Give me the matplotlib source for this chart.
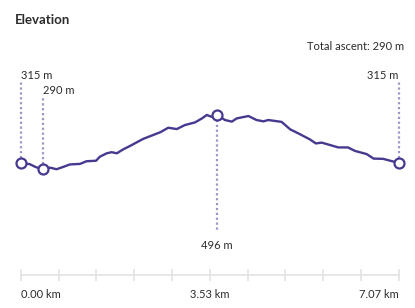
import numpy as np
import matplotlib
matplotlib.use('Agg')
import matplotlib.pyplot as plt
import matplotlib.transforms as mtransforms

# elevation profile
distance_km = [0.00, 0.17, 0.27, 0.41, 0.55, 0.67, 0.80, 0.92, 1.11, 1.23,
               1.41, 1.48, 1.61, 1.70, 1.80, 1.92, 2.04, 2.29, 2.61, 2.76,
               2.92, 3.07, 3.26, 3.39, 3.48, 3.57, 3.67, 3.82, 3.95, 4.04,
               4.26, 4.41, 4.54, 4.63, 4.88, 5.04, 5.22, 5.41, 5.52, 5.63,
               5.94, 6.12, 6.25, 6.47, 6.60, 6.78, 6.91, 7.07]
elevation_m = [315, 310, 300, 290, 297, 291, 300, 309, 311, 321,
               323, 338, 351, 355, 351, 366, 378, 405, 430, 447,
               442, 457, 467, 482, 495, 488, 496, 476, 470, 482,
               491, 476, 471, 476, 469, 441, 423, 403, 388, 391,
               373, 373, 360, 348, 331, 330, 323, 315]

total_ascent = 290
tick_labels = ['0.00 km', '3.53 km', '7.07 km']

line_col = '#46398f'
dot_col = '#9c95c8'
txt_col = '#2b2b2b'

plt.rcParams['font.family'] = ['Lato', 'DejaVu Sans']

W, H = 415, 308
fig = plt.figure(figsize=(W / 100, H / 100), dpi=100)
ax_left, ax_right, ax_top, ax_bot = 20.7, 398.7, 60, 275
ax = fig.add_axes([ax_left / W, 1 - ax_bot / H,
                   (ax_right - ax_left) / W, (ax_bot - ax_top) / H])

x = np.array(distance_km)
y = np.array(elevation_m)
ax.plot(x, y, color=line_col, lw=1.7, solid_joinstyle='round', zorder=3,
        clip_on=False)

ax.set_xlim(0, x[-1])
ax.set_ylim(-106.6, 701.6)

# markers: start, lowest, highest, end
i_lo = int(np.argmin(y))
i_hi = int(np.argmax(y))
trans = mtransforms.blended_transform_factory(ax.transData, ax.transAxes)
marks = [(0, 0.898, 0.93, 'left'), (i_lo, 0.823, 0.858, 'left'),
         (len(x) - 1, 0.898, 0.93, 'right'), (i_hi, 0.20, 0.135, 'center')]
for i, ytop, ylab, ha in marks:
    yfrac = ax.transAxes.inverted().transform(ax.transData.transform((x[i], y[i])))[1]
    ax.plot([x[i], x[i]], [yfrac, ytop], transform=trans, color=dot_col,
            lw=1.6, linestyle=(0, (1, 1.2)), zorder=2, clip_on=False)
    ax.text(x[i], ylab, f'{y[i]} m', transform=trans, ha=ha, va='center',
            fontsize=8, color=txt_col)
    ax.plot(x[i], y[i], 'o', ms=7.2, mfc='white', mec=line_col, mew=1.6,
            zorder=4, clip_on=False)

for s in ['top', 'left', 'right']:
    ax.spines[s].set_visible(False)
ax.spines['bottom'].set_color('#e3e3e3')
ax.spines['bottom'].set_linewidth(1.2)
ax.set_yticks([])
ticks = np.linspace(0, x[-1], 11)
ax.set_xticks(ticks)
labels = [''] * 11
labels[0], labels[5], labels[10] = tick_labels
ax.set_xticklabels(labels)
ax.tick_params(axis='x', direction='inout', length=8, width=1.2,
               color='#e3e3e3', labelsize=8, labelcolor=txt_col, pad=6)
tl = ax.get_xticklabels()
tl[0].set_ha('left')
tl[10].set_ha('right')

fig.text(15 / W, 1 - 20 / H, 'Elevation', fontsize=9.5, fontweight='bold',
         color=txt_col, ha='left', va='center')
fig.text(404 / W, 1 - 47 / H, f'Total ascent: {total_ascent} m', fontsize=8,
         color=txt_col, ha='right', va='center')

fig.savefig('out.png', dpi=100)
